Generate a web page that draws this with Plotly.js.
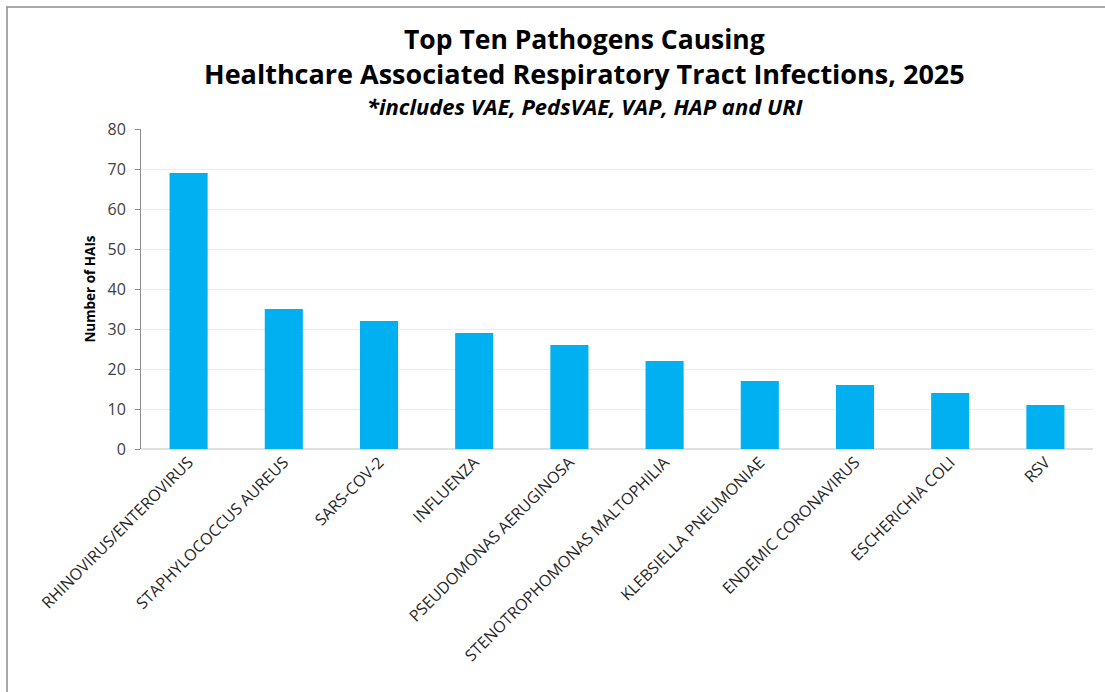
<!DOCTYPE html>
<html>
<head>
<meta charset="utf-8">
<script src="https://cdn.plot.ly/plotly-3.0.1.min.js"></script>
<style>
  html, body { margin: 0; padding: 0; background: #ffffff; }
  #chart { width: 1105px; height: 692px; }
</style>
</head>
<body>
<div id="chart"></div>
<script>
// Pathogens ranked by number of healthcare associated respiratory tract infections
const pathogens = [
  "RHINOVIRUS/ENTEROVIRUS",
  "STAPHYLOCOCCUS AUREUS",
  "SARS-COV-2",
  "INFLUENZA",
  "PSEUDOMONAS AERUGINOSA",
  "STENOTROPHOMONAS MALTOPHILIA",
  "KLEBSIELLA PNEUMONIAE",
  "ENDEMIC CORONAVIRUS",
  "ESCHERICHIA COLI",
  "RSV"
];
const haiCounts = [69, 35, 32, 29, 26, 22, 17, 16, 14, 11];
const yTicks = [0, 10, 20, 30, 40, 50, 60, 70, 80];

const titleLine1 = "Top Ten Pathogens Causing";
const titleLine2 = "Healthcare Associated Respiratory Tract Infections, 2025";
const subtitle = "*includes VAE, PedsVAE, VAP, HAP and URI";
const yTitle = "Number of HAIs";

const W = 1105, H = 692;
const M = { l: 141, r: 12, t: 129, b: 243 };
const plotW = W - M.l - M.r, plotH = H - M.t - M.b;
// helpers to place items in paper units from pixel positions on the page
const px = x => (x - M.l) / plotW;
const py = y => (H - M.b - y) / plotH;

const font = "Open Sans";

const trace = {
  type: "bar",
  x: pathogens,
  y: haiCounts,
  marker: { color: "#00B0F0" },
  hoverinfo: "x+y"
};

const layout = {
  width: W,
  height: H,
  margin: M,
  paper_bgcolor: "#ffffff",
  plot_bgcolor: "#ffffff",
  showlegend: false,
  bargap: 0.6,
  font: { family: font, color: "#404040" },
  xaxis: {
    type: "category",
    tickangle: -45,
    tickfont: { family: font, size: 16, color: "#262626" },
    showgrid: false,
    zeroline: false,
    showline: false,
    ticks: ""
  },
  yaxis: {
    range: [0, 80],
    tickvals: yTicks,
    tickfont: { family: font, size: 16, color: "#404040" },
    ticklabelstandoff: 6,
    showgrid: true,
    gridcolor: "#ececec",
    gridwidth: 1,
    zeroline: true,
    zerolinecolor: "#e0e0e0",
    zerolinewidth: 1.5,
    showline: true,
    linecolor: "#8c8c8c",
    linewidth: 1,
    ticks: "outside",
    ticklen: 5,
    tickcolor: "#8c8c8c",
    title: {
      text: "<b>" + yTitle + "</b>",
      font: { family: font, size: 13.5, color: "#000000" },
      standoff: 8
    }
  },
  annotations: [
    {
      text: "<b>" + titleLine1 + "</b>",
      xref: "paper", yref: "paper",
      x: px(584), y: py(39.5), xanchor: "center", yanchor: "middle",
      showarrow: false, borderpad: 0,
      font: { family: font, size: 26.5, color: "#000000" }
    },
    {
      text: "<b>" + titleLine2 + "</b>",
      xref: "paper", yref: "paper",
      x: px(584), y: py(73.5), xanchor: "center", yanchor: "middle",
      showarrow: false, borderpad: 0,
      font: { family: font, size: 27, color: "#000000" }
    },
    {
      text: "<b><i>" + subtitle + "</i></b>",
      xref: "paper", yref: "paper",
      x: px(585), y: py(106), xanchor: "center", yanchor: "middle",
      showarrow: false, borderpad: 0,
      font: { family: font, size: 22, color: "#000000" }
    }
  ],
  shapes: [
    // outer chart frame
    {
      type: "rect",
      xref: "paper", yref: "paper",
      x0: px(7), x1: px(1200), y0: py(760), y1: py(7),
      line: { color: "#8a8a8a", width: 1.5 },
      fillcolor: "rgba(0,0,0,0)",
      layer: "below"
    }
  ]
};

Plotly.newPlot("chart", [trace], layout, { displayModeBar: false, staticPlot: true });
</script>
</body>
</html>
